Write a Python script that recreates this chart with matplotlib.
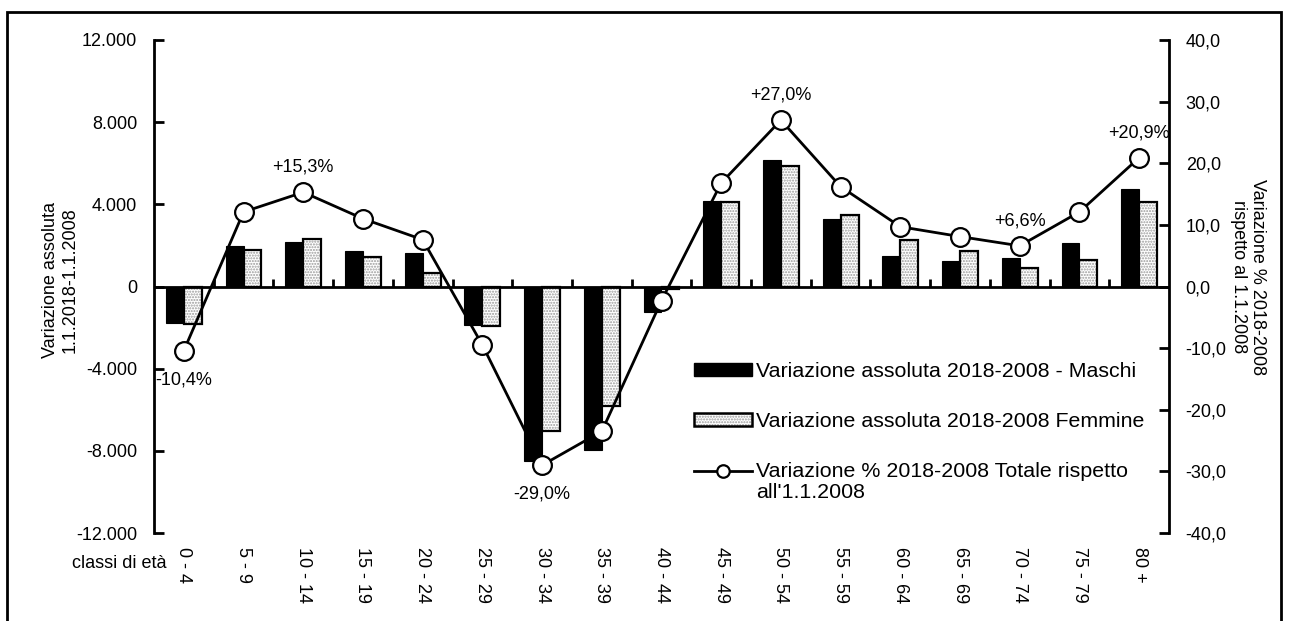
import matplotlib
matplotlib.use("Agg")
import matplotlib.pyplot as plt
from matplotlib.ticker import FuncFormatter, FixedLocator
from matplotlib.patches import Rectangle
from matplotlib.lines import Line2D
from matplotlib.legend_handler import HandlerTuple, HandlerLine2D
import numpy as np

plt.rcParams['font.family'] = ['Liberation Sans', 'DejaVu Sans']

# Age classes
classi = ["0 - 4", "5 - 9", "10 - 14", "15 - 19", "20 - 24", "25 - 29", "30 - 34",
          "35 - 39", "40 - 44", "45 - 49", "50 - 54", "55 - 59", "60 - 64",
          "65 - 69", "70 - 74", "75 - 79", "80 +"]

# Absolute change 2018-2008
maschi = [-1770, 1980, 2170, 1750, 1620, -1860, -8510, -7940, -1230, 4180, 6160,
          3310, 1490, 1240, 1380, 2140, 4750]
femmine = [-1810, 1780, 2330, 1460, 680, -1930, -7050, -5840, -100, 4120, 5870,
           3500, 2270, 1750, 880, 1280, 4090]

# Percentage change of the total population
var_perc = [-10.4, 12.1, 15.3, 11.0, 7.6, -9.5, -29.0, -23.5, -2.3, 16.8, 27.0,
            16.2, 9.7, 8.1, 6.6, 12.1, 20.9]

# Points labelled with their value
etichette = {0: "below", 2: "above", 6: "below", 10: "above", 14: "above", 16: "above"}

FS = 13
W, H = 1289, 621
fig = plt.figure(figsize=(W / 100, H / 100), dpi=100)
ax = fig.add_axes([154 / W, 1 - 533 / H, (1169 - 154) / W, (533 - 40) / H])
ax2 = ax.twinx()

x = np.arange(len(classi))
bw = 0.3

ax.bar(x - bw / 2, maschi, width=bw, color="black", edgecolor="black", linewidth=0.8, zorder=2)
ax.bar(x + bw / 2, femmine, width=bw, color="white", edgecolor="#9a9a9a",
       linewidth=0, hatch="......", zorder=2)
ax.bar(x + bw / 2, femmine, width=bw, fill=False, edgecolor="black",
       linewidth=1.6, zorder=3)

ax.set_xlim(-0.5, len(classi) - 0.5)
ax.set_ylim(-12000, 12000)
ax.yaxis.set_major_locator(FixedLocator([-12000, -8000, -4000, 0, 4000, 8000, 12000]))


def fmt_migliaia(v, pos):
    s = f"{abs(int(round(v))):,}".replace(",", ".")
    return ("-" if v < 0 else "") + s


ax.yaxis.set_major_formatter(FuncFormatter(fmt_migliaia))
ax.tick_params(axis="y", direction="in", length=7, width=2, labelsize=FS, pad=12)

# zero line with category boundary ticks
ax.axhline(0, color="black", linewidth=2, zorder=4)
for b in np.arange(0.5, len(classi) - 1, 1.0):
    ax.plot([b, b], [0, 350], color="black", linewidth=2, zorder=4, solid_capstyle="butt")

ax.set_xticks(x)
ax.set_xticklabels(classi, rotation=270, fontsize=FS)
ax.tick_params(axis="x", length=0, pad=10)
for lab in ax.get_xticklabels():
    lab.set_ha("center")
    lab.set_va("top")

for side in ["top", "bottom"]:
    ax.spines[side].set_visible(False)
    ax2.spines[side].set_visible(False)
ax.spines["left"].set_linewidth(2)
ax2.spines["right"].set_linewidth(2)
ax2.spines["left"].set_visible(False)
ax.spines["right"].set_visible(False)

ax2.plot(x, var_perc, color="black", linewidth=2, marker="o", markersize=13.5,
         markerfacecolor="white", markeredgecolor="black", markeredgewidth=1.6, zorder=5)
ax2.set_ylim(-40, 40)
ax2.yaxis.set_major_locator(FixedLocator(np.arange(-40, 41, 10)))
ax2.yaxis.set_major_formatter(FuncFormatter(lambda v, p: f"{v:.1f}".replace(".", ",")))
ax2.tick_params(axis="y", direction="in", length=7, width=2, labelsize=FS, pad=12)

for i, pos in etichette.items():
    v = var_perc[i]
    txt = ("+" if v > 0 else "") + f"{v:.1f}".replace(".", ",") + "%"
    dy = 18 if pos == "above" else -21
    ax2.annotate(txt, (x[i], v), xytext=(0, dy), textcoords="offset points",
                 ha="center", va="center", fontsize=FS, zorder=6)

# axis titles
fig.text(60 / W, 1 - 280 / H, "Variazione assoluta\n1.1.2018-1.1.2008", rotation=90,
         ha="center", va="center", multialignment="center", fontsize=FS)
fig.text(1248 / W, 1 - 277 / H, "Variazione % 2018-2008\nrispetto al 1.1.2008",
         rotation=270, ha="center", va="center", multialignment="center", fontsize=FS)
fig.text(167 / W, 1 - 563 / H, "classi di età", ha="right", va="center", fontsize=FS)


class HandlerLineFirstRow(HandlerLine2D):
    """Line handle aligned with the first row of a two-line label."""

    def __init__(self, shift, **kw):
        super().__init__(**kw)
        self.shift = shift

    def create_artists(self, legend, orig_handle, xdescent, ydescent, width, height,
                       fontsize, trans):
        return super().create_artists(legend, orig_handle, xdescent,
                                      ydescent - 2 * self.shift, width, height,
                                      fontsize, trans)


LFS = 15.4
h1 = Rectangle((0, 0), 1, 1, facecolor="black", edgecolor="black")
h2a = Rectangle((0, 0), 1, 1, facecolor="white", edgecolor="#9a9a9a", hatch="......", linewidth=0)
h2b = Rectangle((0, 0), 1, 1, fill=False, edgecolor="black", linewidth=1.8)
h3 = Line2D([], [], color="black", linewidth=2, marker="o", markersize=9,
            markerfacecolor="white", markeredgecolor="black", markeredgewidth=1.6)
leg = ax2.legend([h1, (h2a, h2b), h3],
                 ["Variazione assoluta 2018-2008 - Maschi",
                  "Variazione assoluta 2018-2008 Femmine",
                  "Variazione % 2018-2008 Totale rispetto\nall'1.1.2008"],
                 handler_map={tuple: HandlerTuple(ndivide=1),
                              h3: HandlerLineFirstRow(8.8)},
                 loc="upper left", bbox_to_anchor=(694 / W, 1 - 362 / H),
                 bbox_transform=fig.transFigure, frameon=False, fontsize=LFS,
                 handlelength=2.7, handleheight=0.5, handletextpad=0.2,
                 labelspacing=1.45, borderaxespad=0, borderpad=0)
for t in leg.get_texts():
    t.set_linespacing(1.15)

# outer chart frame
fig.patches.append(Rectangle((7 / W, -0.05), (1281 - 7) / W, 1 - 12 / H + 0.05,
                             transform=fig.transFigure, fill=False,
                             edgecolor="black", linewidth=2))

fig.savefig("out.png", dpi=100)
